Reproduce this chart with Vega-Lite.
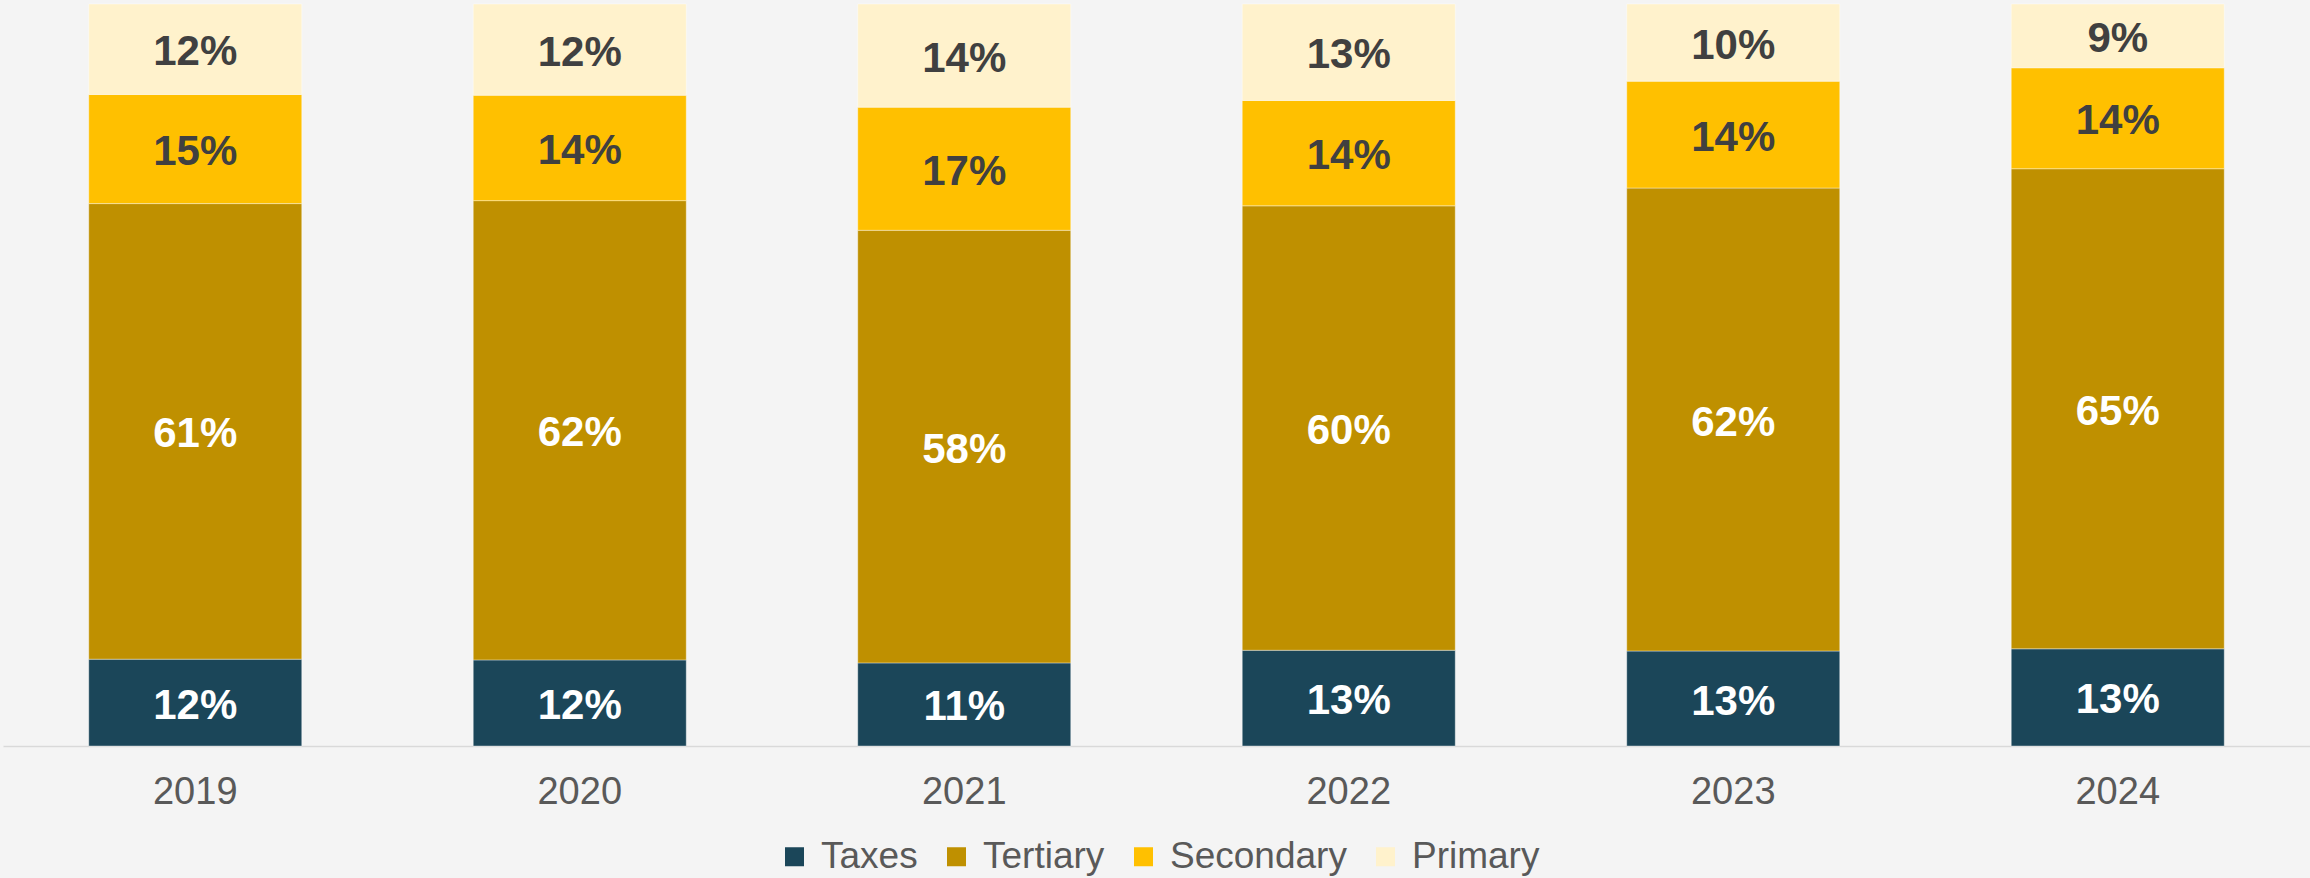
{
  "$schema": "https://vega.github.io/schema/vega-lite/v6.json",
  "width": 2307,
  "height": 742,
  "autosize": {"type": "none"},
  "padding": {"left": 3, "top": 4, "right": 0, "bottom": 132},
  "background": "#f4f4f4",
  "config": {"view": {"stroke": null}, "font": "Liberation Sans"},
  "data": {
    "values": [
      {"year": "2019", "sector": "Taxes", "share": 0.117},
      {"year": "2019", "sector": "Tertiary", "share": 0.614},
      {"year": "2019", "sector": "Secondary", "share": 0.147},
      {"year": "2019", "sector": "Primary", "share": 0.122},
      {"year": "2020", "sector": "Taxes", "share": 0.116},
      {"year": "2020", "sector": "Tertiary", "share": 0.619},
      {"year": "2020", "sector": "Secondary", "share": 0.142},
      {"year": "2020", "sector": "Primary", "share": 0.123},
      {"year": "2021", "sector": "Taxes", "share": 0.112},
      {"year": "2021", "sector": "Tertiary", "share": 0.583},
      {"year": "2021", "sector": "Secondary", "share": 0.166},
      {"year": "2021", "sector": "Primary", "share": 0.139},
      {"year": "2022", "sector": "Taxes", "share": 0.129},
      {"year": "2022", "sector": "Tertiary", "share": 0.599},
      {"year": "2022", "sector": "Secondary", "share": 0.142},
      {"year": "2022", "sector": "Primary", "share": 0.130},
      {"year": "2023", "sector": "Taxes", "share": 0.128},
      {"year": "2023", "sector": "Tertiary", "share": 0.624},
      {"year": "2023", "sector": "Secondary", "share": 0.144},
      {"year": "2023", "sector": "Primary", "share": 0.104},
      {"year": "2024", "sector": "Taxes", "share": 0.131},
      {"year": "2024", "sector": "Tertiary", "share": 0.647},
      {"year": "2024", "sector": "Secondary", "share": 0.136},
      {"year": "2024", "sector": "Primary", "share": 0.086}
    ]
  },
  "transform": [
    {"calculate": "indexof(['Taxes','Tertiary','Secondary','Primary'], datum.sector)", "as": "rank"},
    {"stack": "share", "groupby": ["year"], "sort": [{"field": "rank", "order": "ascending"}], "as": ["y0", "y1"]},
    {"calculate": "(datum.y0 + datum.y1) / 2", "as": "ymid"}
  ],
  "encoding": {
    "x": {
      "field": "year",
      "type": "ordinal",
      "scale": {"paddingInner": 0.446, "paddingOuter": 0.223},
      "axis": {
        "title": null,
        "labelAngle": 0,
        "labelFontSize": 38,
        "labelColor": "#595959",
        "labelFont": "Liberation Sans",
        "ticks": false,
        "domainColor": "#d9d9d9",
        "domainWidth": 1.5,
        "labelPadding": 27
      }
    }
  },
  "layer": [
    {
      "mark": {"type": "bar", "stroke": "#ffffff", "strokeWidth": 0.75, "strokeOpacity": 0.5},
      "encoding": {
        "y": {"field": "y0", "type": "quantitative", "scale": {"domain": [0, 1]}, "axis": null},
        "y2": {"field": "y1"},
        "color": {
          "field": "sector",
          "type": "nominal",
          "scale": {
            "domain": ["Taxes", "Tertiary", "Secondary", "Primary"],
            "range": ["#1b4659", "#bf9000", "#ffc000", "#fff2cc"]
          },
          "legend": {
            "orient": "none",
            "legendX": 773,
            "legendY": 834,
            "direction": "horizontal",
            "title": null,
            "symbolType": "square",
            "symbolSize": 361,
            "symbolStrokeWidth": 0,
            "symbolOpacity": 1,
            "labelFontSize": 37,
            "labelColor": "#595959",
            "labelFont": "Liberation Sans",
            "labelLimit": 0,
            "columnPadding": 20,
            "labelOffset": 8
          }
        }
      }
    },
    {
      "mark": {"type": "text", "font": "Liberation Sans", "fontWeight": "bold", "fontSize": 42, "align": "center", "baseline": "middle", "dy": 3},
      "encoding": {
        "y": {"field": "ymid", "type": "quantitative"},
        "text": {"field": "share", "format": ".0%"},
        "color": {
          "condition": {"test": "datum.sector == 'Taxes' || datum.sector == 'Tertiary'", "value": "#ffffff"},
          "value": "#404040"
        }
      }
    }
  ]
}
